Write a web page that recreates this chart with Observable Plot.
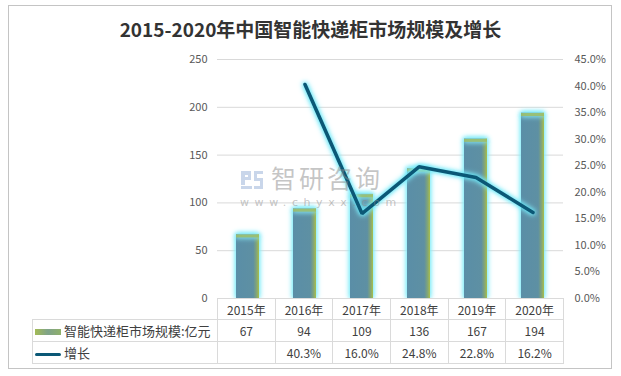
<!DOCTYPE html>
<html>
<head>
<meta charset="utf-8">
<script src="https://cdn.jsdelivr.net/npm/d3@7"></script>
<script src="https://cdn.jsdelivr.net/npm/@observablehq/plot@0.6"></script>
<style>
  html, body { margin: 0; padding: 0; background: #fff; }
  #wrap { position: relative; width: 621px; height: 376px; overflow: hidden; background: #fff;
          font-family: "Noto Sans CJK SC", "Noto Sans", sans-serif; }
  #frame { position: absolute; left: 8px; top: 5px; width: 604px; height: 364px; border: 1px solid #c4c4c4; box-sizing: border-box; }
  #title { position: absolute; left: 0; width: 621px; top: 16px; text-align: center; font-size: 19px; font-weight: bold; color: #333; line-height: 26px; }
  #chart { position: absolute; left: 0; top: 0; }
  #wm { position: absolute; left: 240px; top: 166px; color: rgba(140,140,140,0.5); pointer-events: none; }
  #wm .big { position: absolute; left: 31px; top: -2px; font-size: 25px; letter-spacing: 3px; white-space: nowrap; line-height: 26px; }
  #wm .small { position: absolute; left: 0; top: 31px; font-size: 11px; letter-spacing: 5.6px; white-space: nowrap; font-family: "DejaVu Sans", sans-serif; line-height: 12px; }
  #wm .logo { position: absolute; left: 0; top: 4px; width: 24px; height: 20px; }
  table { position: absolute; left: 32px; top: 298px; border-collapse: collapse; table-layout: fixed; width: 531px; font-size: 12px; color: #404040; }
  td { border: 1px solid #dadada; text-align: center; padding: 0; white-space: nowrap; background: #fff; }
  tr.h td { height: 20px; }
  tr.r td { height: 21px; }
  td.lab { text-align: left; font-size: 13px; padding-left: 2px; }
  td.blank { border-top: none; border-left: none; background: transparent; }
  .sw { display: inline-block; width: 26px; vertical-align: middle; margin-right: 3px; }
</style>
</head>
<body>
<div id="wrap">
  <div id="frame"></div>
  <div id="title"></div>
  <div id="chart"></div>
  <div id="wm">
    <svg class="logo" viewBox="0 0 24 20">
      <path d="M1 1 H11 V10 H5 V15 H1 Z M5 5 H8 V7 H5 Z" fill="#c9d6ea" fill-rule="evenodd"/>
      <path d="M1 16 H12 V19 H1 Z" fill="#c9d6ea"/>
      <path d="M14 1 H23 V4 H17 V8 H23 V19 H14 V16 H20 V11 H14 Z" fill="#c9d6ea"/>
    </svg>
    <div class="big">智研咨询</div>
    <div class="small">www.chyxx.com</div>
  </div>
</div>
<script>
// ---- data ----
const titleText = "2015-2020年中国智能快递柜市场规模及增长";
const years = ["2015年", "2016年", "2017年", "2018年", "2019年", "2020年"];
const marketSize = [67, 94, 109, 136, 167, 194];          // 亿元
const growthPct = [null, 40.3, 16.0, 24.8, 22.8, 16.2];   // %
const seriesNames = ["智能快递柜市场规模:亿元", "增长"];
const leftTicks = [0, 50, 100, 150, 200, 250];
const rightTicks = [0, 5, 10, 15, 20, 25, 30, 35, 40, 45];
const leftMax = 250, rightMax = 45;

document.getElementById("title").textContent = titleText;

const toLeft = p => p / rightMax * leftMax;
const bars = years.map((y, i) => ({year: y, value: marketSize[i]}));
const growth = years.map((y, i) => ({year: y, g: growthPct[i]})).filter(d => d.g != null);

const inset = 17;
const chart = Plot.plot({
  width: 621,
  height: 376,
  marginLeft: 217,
  marginRight: 58,
  marginTop: 59,
  marginBottom: 78,
  style: {fontFamily: "'Noto Sans CJK SC', sans-serif", fontSize: "11px", color: "#595959", background: "transparent"},
  x: {domain: years, padding: 0, axis: null},
  y: {domain: [0, leftMax], axis: null},
  marks: [
    Plot.ruleY(leftTicks, {stroke: "#d9d9d9", strokeWidth: 1}),
    Plot.text(leftTicks, {y: d => d, frameAnchor: "left", textAnchor: "end", dx: -10, text: d => String(d), fill: "#595959", fontSize: 11}),
    Plot.text(rightTicks, {y: d => toLeft(d), frameAnchor: "right", textAnchor: "start", dx: 11, text: d => d.toFixed(1) + "%", fill: "#595959", fontSize: 11}),
    Plot.barY(bars, {x: "year", y: "value", fill: "url(#barGrad)", insetLeft: inset, insetRight: inset}),
    Plot.tickY(bars, {x: "year", y: "value", stroke: "#a3bb55", strokeWidth: 3, strokeOpacity: 0.75, insetLeft: inset, insetRight: inset, dy: 1.5}),
    Plot.line(growth, {x: "year", y: d => toLeft(d.g), stroke: "#0b5876", strokeWidth: 3.5, strokeLinejoin: "miter"})
  ]
});

const svg = d3.select(chart);
const defs = svg.insert("defs", ":first-child");
const g1 = defs.append("linearGradient").attr("id", "barGrad").attr("x1", 0).attr("x2", 1).attr("y1", 0).attr("y2", 0);
g1.append("stop").attr("offset", "0%").attr("stop-color", "#5a8ea7");
g1.append("stop").attr("offset", "75%").attr("stop-color", "#5e90a3");
g1.append("stop").attr("offset", "88%").attr("stop-color", "#7ea37c");
g1.append("stop").attr("offset", "100%").attr("stop-color", "#a8be4b");
svg.selectAll('g[aria-label="bar"], g[aria-label="tick"]').style("filter", "drop-shadow(0 0 2.5px #6fe8f7) drop-shadow(0 0 2px #9ff2fb)");
svg.selectAll('g[aria-label="line"]').style("filter", "drop-shadow(0 0 2px #55e2f5) drop-shadow(0 0 2.5px #8ef0fb)");
document.getElementById("chart").appendChild(chart);

// ---- data table under the plot ----
const table = document.createElement("table");
const colg = document.createElement("colgroup");
colg.innerHTML = `<col style="width:185px">` + years.map(() => `<col style="width:57.67px">`).join("");
table.appendChild(colg);
const fmtPct = v => v == null ? "" : v.toFixed(1) + "%";
const hdr = `<tr class="h"><td class="blank"></td>${years.map(y => `<td>${y}</td>`).join("")}</tr>`;
const r1 = `<tr class="r"><td class="lab"><span class="sw" style="height:6px;background:linear-gradient(90deg,#a3bb55,#7fa38a 50%,#8fb06a)"></span>${seriesNames[0]}</td>${marketSize.map(v => `<td>${v}</td>`).join("")}</tr>`;
const r2 = `<tr class="r"><td class="lab"><span class="sw" style="height:3px;border-radius:2px;background:#0b5876"></span>${seriesNames[1]}</td>${growthPct.map(v => `<td>${fmtPct(v)}</td>`).join("")}</tr>`;
table.innerHTML += hdr + r1 + r2;
document.getElementById("wrap").appendChild(table);
</script>
</body>
</html>
